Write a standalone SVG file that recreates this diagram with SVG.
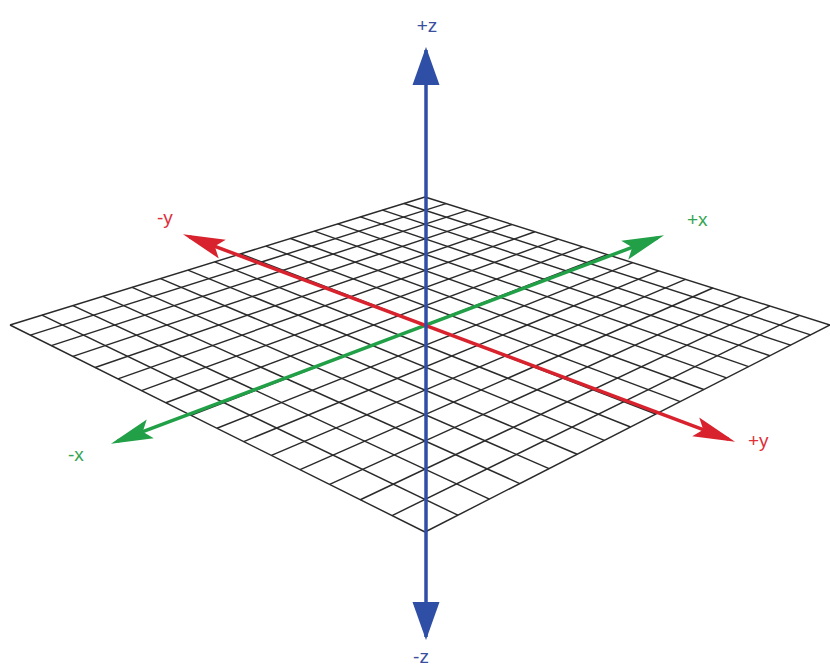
<svg xmlns="http://www.w3.org/2000/svg" width="830" height="668" viewBox="0 0 830 668">
<style>
.grid line{stroke:#2a2a2a;stroke-width:1.45;fill:none}
.lbl{font-family:"Liberation Sans","Open Sans",Arial,sans-serif;font-size:19px}
.ax{fill:none;stroke-width:3.5}
</style>
<defs>
<marker id="ahR" viewBox="-46 -12 48 24" refX="-7" refY="0" markerWidth="48" markerHeight="24" markerUnits="userSpaceOnUse" orient="auto-start-reverse">
<path d="M0,0 L-42,-10 L-34,0 L-42,10 Z" fill="#d8232e"/>
</marker>
<marker id="ahG" viewBox="-46 -12 48 24" refX="-7" refY="0" markerWidth="48" markerHeight="24" markerUnits="userSpaceOnUse" orient="auto-start-reverse">
<path d="M0,0 L-42,-10 L-34,0 L-42,10 Z" fill="#22a047"/>
</marker>
<marker id="ahB" viewBox="-40 -15 42 30" refX="-3" refY="0" markerWidth="42" markerHeight="30" markerUnits="userSpaceOnUse" orient="auto-start-reverse">
<path d="M0,0 L-38,-13.5 L-38,13.5 Z" fill="#2f4ea6"/>
</marker>
</defs>
<rect width="830" height="668" fill="#ffffff"/>
<g id="grid" class="grid">
<line x1="425" y1="197" x2="10" y2="325"/>
<line x1="445.97" y1="203.63" x2="30.35" y2="335.16"/>
<line x1="467.42" y1="210.41" x2="51.30" y2="345.61"/>
<line x1="489.38" y1="217.35" x2="72.87" y2="356.36"/>
<line x1="511.86" y1="224.45" x2="95.08" y2="367.44"/>
<line x1="534.87" y1="231.72" x2="117.97" y2="378.86"/>
<line x1="558.45" y1="239.18" x2="141.56" y2="390.63"/>
<line x1="582.60" y1="246.81" x2="165.90" y2="402.77"/>
<line x1="607.36" y1="254.63" x2="191.02" y2="415.29"/>
<line x1="632.73" y1="262.65" x2="216.95" y2="428.23"/>
<line x1="658.76" y1="270.88" x2="243.73" y2="441.59"/>
<line x1="685.45" y1="279.32" x2="271.41" y2="455.39"/>
<line x1="712.85" y1="287.97" x2="300.03" y2="469.67"/>
<line x1="740.97" y1="296.86" x2="329.65" y2="484.44"/>
<line x1="769.85" y1="305.99" x2="360.31" y2="499.74"/>
<line x1="799.51" y1="315.36" x2="392.07" y2="515.59"/>
<line x1="830" y1="325" x2="425" y2="532"/>
<line x1="425" y1="197" x2="830" y2="325"/>
<line x1="404.00" y1="203.48" x2="810.59" y2="334.92"/>
<line x1="382.47" y1="210.12" x2="790.57" y2="345.15"/>
<line x1="360.37" y1="216.93" x2="769.91" y2="355.71"/>
<line x1="337.69" y1="223.93" x2="748.57" y2="366.62"/>
<line x1="314.40" y1="231.11" x2="726.52" y2="377.89"/>
<line x1="290.48" y1="238.49" x2="703.73" y2="389.54"/>
<line x1="265.91" y1="246.07" x2="680.17" y2="401.58"/>
<line x1="240.64" y1="253.86" x2="655.77" y2="414.05"/>
<line x1="214.67" y1="261.88" x2="630.51" y2="426.96"/>
<line x1="187.95" y1="270.12" x2="604.34" y2="440.34"/>
<line x1="160.44" y1="278.60" x2="577.20" y2="454.21"/>
<line x1="132.13" y1="287.33" x2="549.05" y2="468.60"/>
<line x1="102.97" y1="296.33" x2="519.81" y2="483.54"/>
<line x1="72.93" y1="305.60" x2="489.44" y2="499.07"/>
<line x1="41.95" y1="315.15" x2="457.86" y2="515.21"/>
<line x1="10" y1="325" x2="425" y2="532"/>
</g>
<g id="connectors">
<line id="x-axis" class="ax" x1="117.5" y1="441.2" x2="657.5" y2="237.8" stroke="#22a047" marker-start="url(#ahG)" marker-end="url(#ahG)"/>
<line id="y-axis" class="ax" x1="189.5" y1="236.8" x2="728.5" y2="439.2" stroke="#d8232e" marker-start="url(#ahR)" marker-end="url(#ahR)"/>
<line id="z-axis" class="ax" x1="426" y1="50" x2="426" y2="637" stroke="#2f4ea6" marker-start="url(#ahB)" marker-end="url(#ahB)"/>
</g>
<g id="label-pz"><text class="lbl" x="427" y="32" text-anchor="middle" fill="#3b4f9f">+z</text></g>
<g id="label-nz"><text class="lbl" x="421" y="663" text-anchor="middle" fill="#3b4f9f">-z</text></g>
<g id="label-ny"><text class="lbl" x="157" y="224" fill="#e0303a">-y</text></g>
<g id="label-py"><text class="lbl" x="748" y="447" fill="#e0303a">+y</text></g>
<g id="label-px"><text class="lbl" x="687" y="226" fill="#34a552">+x</text></g>
<g id="label-nx"><text class="lbl" x="68" y="461" fill="#34a552">-x</text></g>
</svg>
